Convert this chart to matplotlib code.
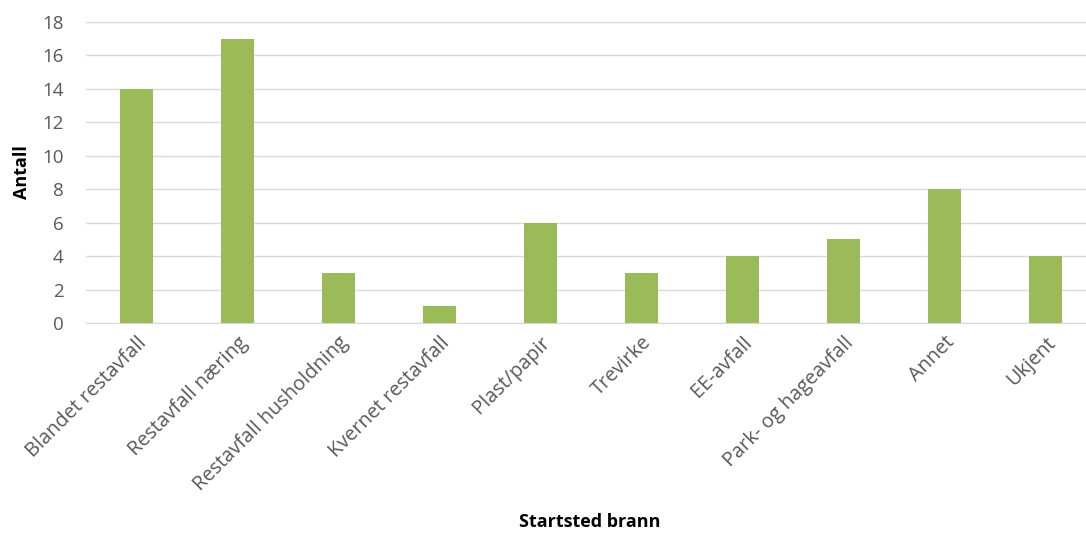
import matplotlib
matplotlib.use("Agg")
import matplotlib.pyplot as plt

categories = ["Blandet restavfall", "Restavfall næring", "Restavfall husholdning",
              "Kvernet restavfall", "Plast/papir", "Trevirke", "EE-avfall",
              "Park- og hageavfall", "Annet", "Ukjent"]
values = [14, 17, 3, 1, 6, 3, 4, 5, 8, 4]
yticks = [0, 2, 4, 6, 8, 10, 12, 14, 16, 18]

plt.rcParams['font.family'] = ['Open Sans', 'DejaVu Sans']

fig = plt.figure(figsize=(10.86, 5.36), dpi=100)
ax = fig.add_axes([86/1086, 213/536, 1010/1086, 301/536])

x = list(range(len(categories)))
ax.bar(x, values, width=0.32, color="#9BBB59", zorder=3)
ax.set_xlim(-0.5, len(categories) - 0.5)
ax.set_ylim(0, 18)
ax.set_yticks(yticks)
ax.yaxis.grid(True, color="#D9D9D9", linewidth=1, zorder=0)
for s in ["top", "right", "left"]:
    ax.spines[s].set_visible(False)
ax.spines["bottom"].set_color("#D9D9D9")
ax.tick_params(axis="both", length=0, colors="#595959")
ax.tick_params(axis="y", pad=16, labelsize=13.5)
ax.set_xticks(x)
ax.set_xticklabels(categories, rotation=45, ha="right", rotation_mode="anchor", fontsize=14.3)
ax.tick_params(axis="x", pad=7)

ax.set_ylabel("Antall", fontsize=13, fontweight="bold", color="black", labelpad=8)
fig.text(590/1086, 14/536, "Startsted brann", fontsize=13,
         fontweight="bold", color="black", ha="center", va="center")

fig.savefig("out.png", dpi=100)
